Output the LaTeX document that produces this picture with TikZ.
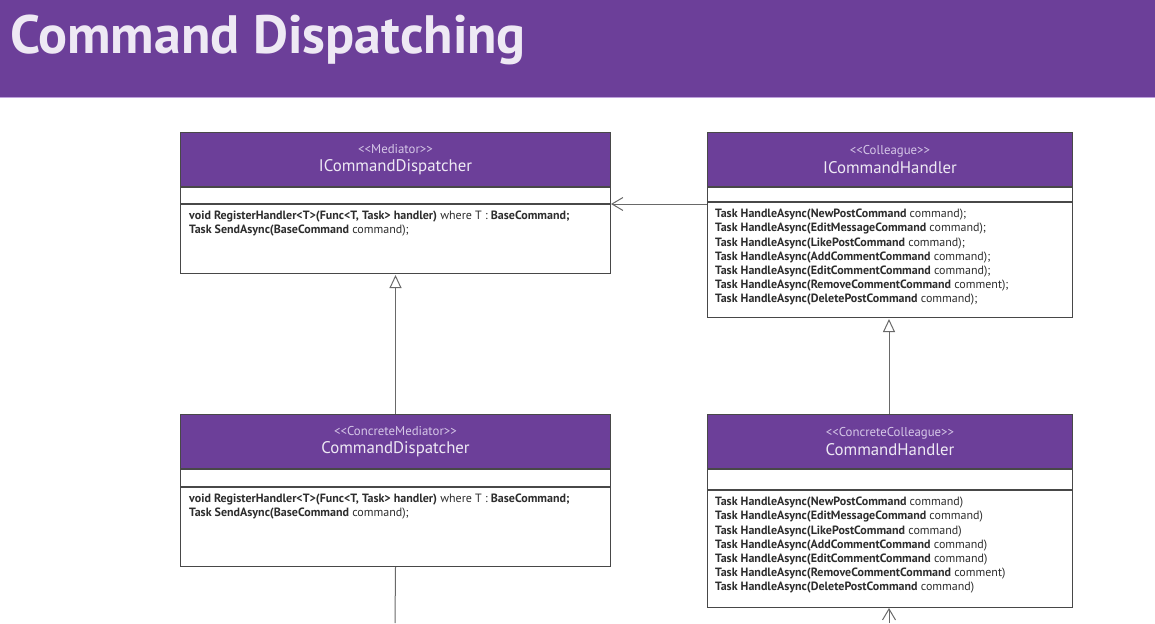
\documentclass[tikz,border=0pt]{standalone}
\usepackage{fontspec}
\setmainfont{PT Sans}
\usepackage{xcolor}
\usepackage{tikz}
\usetikzlibrary{arrows.meta,positioning}
\definecolor{umlpurple}{RGB}{108,63,153}
\definecolor{barline}{RGB}{190,160,220}
\definecolor{headtext}{RGB}{238,233,244}
\definecolor{stereotext}{RGB}{214,200,232}
\definecolor{bodytext}{RGB}{45,45,45}
\definecolor{boxline}{RGB}{72,72,72}
\definecolor{linkline}{RGB}{105,105,105}
\tikzset{
	classhead/.style = {draw=boxline, fill=umlpurple, line width=1pt, minimum height=54pt,
		inner sep=0pt, align=center, anchor=north west, font=\fontsize{16.8}{18.5}\selectfont},
	classpart/.style = {draw=boxline, fill=white, line width=1pt, inner sep=0pt, anchor=north},
	opstext/.style = {anchor=north west, inner sep=0pt, align=left, text=bodytext,
		font=\fontsize{12}{14.2}\selectfont},
	generalize/.style = {draw=linkline, line width=1pt, -{Triangle[open, length=13pt, width=12pt]}},
	assoc/.style = {draw=linkline, line width=1pt, -{Straight Barb[length=11pt, width=13pt]}},
	link/.style = {draw=linkline, line width=1pt}
}
\newcommand{\stereo}[1]{{\fontsize{12.8}{14}\selectfont\color{stereotext}<\kern0pt<#1>\kern0pt>}}
\newcommand{\clsname}[1]{{\color{headtext}#1}}
\newcommand{\hasync}[2]{\textbf{Task HandleAsync(#1} #2}

\begin{document}
\begin{tikzpicture}[x=1pt,y=-1pt]
	\useasboundingbox (0,0) rectangle (1155,623);
	% title bar
	\fill[umlpurple] (0,0) rectangle (1155,98);
	\draw[barline, line width=1pt] (0,97.5) -- (1155,97.5);
	\node[anchor=base west, inner sep=0pt, text=headtext, font=\fontsize{54}{58}\selectfont\bfseries] (title) at (10,54) {Command Dispatching};

	% mediator
	\node[classhead, minimum width=430pt] (mediatorHead) at (180,132) {\stereo{Mediator}\\\clsname{ICommandDispatcher}};
	\node[classpart, minimum width=430pt, minimum height=16pt] (mediatorAttr) at (mediatorHead.south) {};
	\node[classpart, minimum width=430pt, minimum height=69pt] (mediatorOps) at (mediatorAttr.south) {};
	\node[opstext] (mediatorText) at ([xshift=9pt,yshift=-7pt]mediatorOps.north west) {%
		\textbf{void RegisterHandler<T>(Func<T, Task> handler)} where T : \textbf{BaseCommand;}\\
		\textbf{Task SendAsync(BaseCommand} command);};

	% colleague
	\node[classhead, minimum width=365pt] (handlerHead) at (707,132) {\stereo{Colleague}\\\clsname{ICommandHandler}};
	\node[classpart, minimum width=365pt, minimum height=14pt] (handlerAttr) at (handlerHead.south) {};
	\node[classpart, minimum width=365pt, minimum height=115pt] (handlerOps) at (handlerAttr.south) {};
	\node[opstext] (handlerText) at ([xshift=8pt,yshift=-7pt]handlerOps.north west) {%
		\hasync{NewPostCommand}{command);}\\
		\hasync{EditMessageCommand}{command);}\\
		\hasync{LikePostCommand}{command);}\\
		\hasync{AddCommentCommand}{command);}\\
		\hasync{EditCommentCommand}{command);}\\
		\hasync{RemoveCommentCommand}{comment);}\\
		\hasync{DeletePostCommand}{command);}};

	% concrete mediator
	\node[classhead, minimum width=430pt] (dispatcherHead) at (180,414) {\stereo{ConcreteMediator}\\\clsname{CommandDispatcher}};
	\node[classpart, minimum width=430pt, minimum height=17pt] (dispatcherAttr) at (dispatcherHead.south) {};
	\node[classpart, minimum width=430pt, minimum height=79pt] (dispatcherOps) at (dispatcherAttr.south) {};
	\node[opstext] (dispatcherText) at ([xshift=9pt,yshift=-7pt]dispatcherOps.north west) {%
		\textbf{void RegisterHandler<T>(Func<T, Task> handler)} where T : \textbf{BaseCommand;}\\
		\textbf{Task SendAsync(BaseCommand} command);};

	% concrete colleague
	\node[classhead, minimum width=365pt] (cmdHandlerHead) at (707,414) {\stereo{ConcreteColleague}\\\clsname{CommandHandler}};
	\node[classpart, minimum width=365pt, minimum height=20pt] (cmdHandlerAttr) at (cmdHandlerHead.south) {};
	\node[classpart, minimum width=365pt, minimum height=117pt] (cmdHandlerOps) at (cmdHandlerAttr.south) {};
	\node[opstext] (cmdHandlerText) at ([xshift=8pt,yshift=-7pt]cmdHandlerOps.north west) {%
		\hasync{NewPostCommand}{command)}\\
		\hasync{EditMessageCommand}{command)}\\
		\hasync{LikePostCommand}{command)}\\
		\hasync{AddCommentCommand}{command)}\\
		\hasync{EditCommentCommand}{command)}\\
		\hasync{RemoveCommentCommand}{comment)}\\
		\hasync{DeletePostCommand}{command)}};

	% connectors
	\coordinate (dispatcherOut) at (395,623);
	\coordinate (cmdHandlerIn) at (889,623);
	\draw[assoc] (mediatorOps.north east -| handlerOps.west) -- (mediatorOps.north east);
	\draw[generalize] (dispatcherHead.north) -- ([yshift=-1pt]mediatorOps.south);
	\draw[generalize] (cmdHandlerHead.north -| cmdHandlerIn) -- ([yshift=-1pt]handlerOps.south -| cmdHandlerIn);
	\draw[link] (dispatcherOps.south) -- (dispatcherOut);
	\draw[assoc] (cmdHandlerIn) -- (cmdHandlerOps.south -| cmdHandlerIn);
\end{tikzpicture}
\end{document}
